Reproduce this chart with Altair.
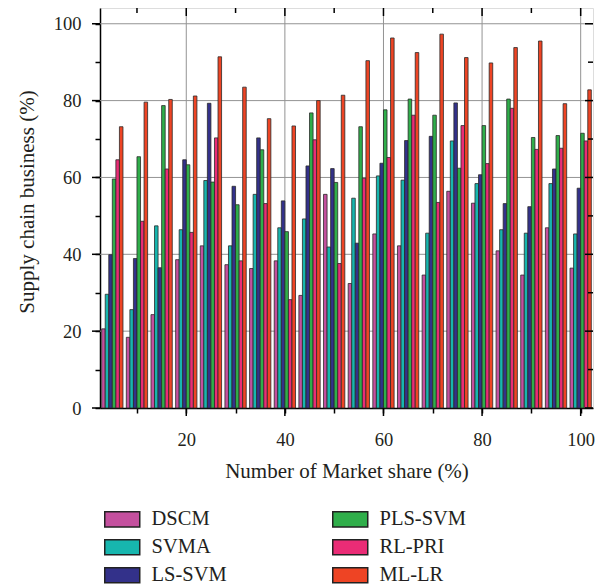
import altair as alt
import pandas as pd

# ---------------- data ----------------
groups = [5, 10, 15, 20, 25, 30, 35, 40, 45, 50, 55, 60, 65, 70, 75, 80, 85, 90, 95, 100]
series = ["DSCM", "SVMA", "LS-SVM", "PLS-SVM", "RL-PRI", "ML-LR"]
dscm = [20.6, 18.4, 24.3, 38.6, 42.2, 37.3, 36.3, 38.3, 29.3, 55.6, 32.4, 45.3, 42.2, 34.6, 56.4, 53.3, 40.9, 34.6, 46.9, 36.4]
svma = [29.6, 25.6, 47.4, 46.4, 59.2, 42.2, 55.6, 46.9, 49.2, 41.9, 54.6, 60.4, 59.3, 45.5, 69.5, 58.4, 46.4, 45.5, 58.4, 45.3]
ls_svm = [39.9, 38.9, 36.5, 64.6, 79.3, 57.7, 70.3, 53.9, 63.0, 62.3, 42.9, 63.7, 69.6, 70.7, 79.4, 60.7, 53.2, 52.4, 62.2, 57.2]
pls_svm = [59.6, 65.4, 78.7, 63.3, 58.8, 52.9, 67.2, 45.9, 76.8, 58.7, 73.2, 77.6, 80.4, 76.2, 62.4, 73.5, 80.4, 70.4, 70.9, 71.5]
rl_pri = [64.6, 48.6, 62.2, 45.7, 70.3, 38.3, 53.2, 28.2, 69.8, 37.6, 59.8, 65.2, 76.2, 53.5, 73.5, 63.6, 78.0, 67.3, 67.6, 69.5]
ml_lr = [73.2, 79.6, 80.3, 81.2, 91.4, 83.5, 75.3, 73.4, 80.0, 81.4, 90.4, 96.3, 92.5, 97.3, 91.2, 89.8, 93.8, 95.5, 79.2, 82.8]
colors = ["#c4509e", "#17b6ae", "#33318a", "#2fae4a", "#ea2c76", "#ee4424"]

x_ticks = [10, 20, 30, 40, 50, 60, 70, 80, 90, 100]
x_major = [20, 40, 60, 80, 100]
x_minor = [10, 30, 50, 70, 90]
y_ticks = [0, 10, 20, 30, 40, 50, 60, 70, 80, 90, 100]
y_major = [0, 20, 40, 60, 80, 100]
y_minor = [10, 30, 50, 70, 90]
grid_vals = [20, 40, 60, 80, 100]

all_vals = [dscm, svma, ls_svm, pls_svm, rl_pri, ml_lr]
rows = []
for i, (name, vals) in enumerate(zip(series, all_vals)):
    for g, v in zip(groups, vals):
        rows.append({"g": g, "series": name, "i": i, "value": v})
df = pd.DataFrame(rows)

FONT = "Liberation Serif"
TXT = "#231f20"
W, H = 493, 400
xscale = alt.Scale(domain=[2.5, 102.5], nice=False, zero=False)
yscale = alt.Scale(domain=[0, 104.1], nice=False, zero=False)
label_expr = "datum.value % 20 === 0 ? datum.label : ''"

x_axis = alt.Axis(
    values=x_ticks, labelExpr=label_expr, grid=False,
    tickSize=5, tickColor="black", tickWidth=1.5,
    domainColor="black", domainWidth=1.5,
    labelFont=FONT, labelFontSize=18.5, labelColor=TXT,
    labelPadding=32, labelBaseline="alphabetic",
    title="Number of Market share (%)", titleFont=FONT, titleFontSize=21,
    titleFontWeight="normal", titleColor=TXT,
    titleX=W / 2, titleY=69.3, titleBaseline="alphabetic",
)
y_axis = alt.Axis(
    values=y_ticks, labelExpr=label_expr, grid=False,
    tickSize=5, tickColor="black", tickWidth=1.5,
    domainColor="black", domainWidth=1.5,
    labelFont=FONT, labelFontSize=18.5, labelColor=TXT,
    labelPadding=14,
    title="Supply chain business (%)", titleFont=FONT, titleFontSize=21,
    titleFontWeight="normal", titleColor=TXT,
    titleX=-66.7, titleY=193.5, titleBaseline="alphabetic", titleAngle=-90,
)

# ---------------- layers ----------------
hgrid = alt.Chart(pd.DataFrame({"v": grid_vals})).mark_rule(color="#939393", strokeWidth=1).encode(
    y=alt.Y("v:Q", scale=yscale, axis=y_axis)
)
vgrid = alt.Chart(pd.DataFrame({"v": grid_vals})).mark_rule(color="#939393", strokeWidth=1).encode(
    x=alt.X("v:Q", scale=xscale, axis=x_axis)
)

bars = alt.Chart(df).transform_calculate(
    x0="datum.g - 2.16 + 0.72 * datum.i",
    x1="datum.g - 2.16 + 0.72 * (datum.i + 1)",
).mark_bar(stroke="#2a2a2a", strokeWidth=0.8, opacity=1).encode(
    x=alt.X("x0:Q", scale=xscale, axis=x_axis),
    x2="x1:Q",
    y=alt.Y("value:Q", scale=yscale, axis=y_axis),
    y2=alt.datum(0),
    color=alt.Color("series:N", scale=alt.Scale(domain=series, range=colors),
                    legend=alt.Legend(
                        orient="none", legendX=12, legendY=501, columns=2,
                        columnPadding=102, rowPadding=6, padding=0,
                        symbolType="M-2,-0.86H2V0.86H-2Z", symbolSize=306,
                        symbolStrokeColor="#222", symbolStrokeWidth=1.5, symbolOpacity=1,
                        labelFont=FONT, labelFontSize=20.5, labelColor=TXT,
                        labelOffset=19, title=None,
                    )),
)

def xticks_rule(vals, y0, y1):
    return alt.Chart(pd.DataFrame({"v": vals})).mark_rule(color="black", strokeWidth=1.5).encode(
        x=alt.X("v:Q", scale=xscale, axis=x_axis), y=alt.value(y0), y2=alt.value(y1)
    )

def yticks_rule(vals, x0, x1):
    return alt.Chart(pd.DataFrame({"v": vals})).mark_rule(color="black", strokeWidth=1.5).encode(
        y=alt.Y("v:Q", scale=yscale, axis=y_axis), x=alt.value(x0), x2=alt.value(x1)
    )

layers = [
    hgrid, vgrid, bars,
    xticks_rule(x_minor, 0, 5), xticks_rule(x_major, 0, 8),        # top, inward
    xticks_rule(x_major, H, H + 8),                                   # bottom major, outward
    yticks_rule(y_minor, W, W - 5), yticks_rule(y_major, W, W - 8),   # right, inward
    yticks_rule(y_major, 0, -8),                                      # left major, outward
]

chart = alt.layer(*layers).properties(
    width=W, height=H,
    padding={"left": 92, "top": 0, "right": 4, "bottom": 176},
    autosize=alt.AutoSizeParams(type="none"),
).configure_view(
    stroke="black", strokeWidth=1.5
).configure_axis(
    titleFontWeight="normal", labelFontWeight="normal"
).configure(background="white")

chart.save("out.html", embed_options={"renderer": "svg", "actions": False})
